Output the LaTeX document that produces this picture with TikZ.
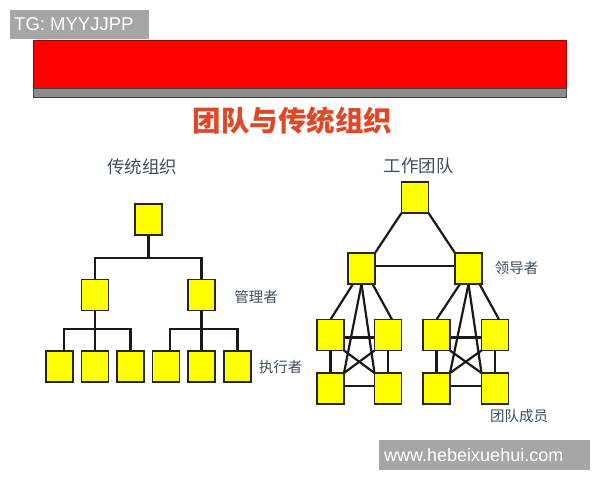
\documentclass[tikz,border=0pt]{standalone}
\usepackage{fontspec}
\setmainfont{Liberation Sans}
\newfontfamily\cjk{Noto Sans CJK SC}
\definecolor{labelc}{RGB}{60,78,94}
\definecolor{titlec}{RGB}{222,72,40}
\definecolor{boxy}{RGB}{255,255,0}
\definecolor{wm}{RGB}{166,166,166}
\begin{document}
\begin{tikzpicture}[x=1pt,y=-1pt,
  box/.style={draw=black!85,fill=boxy,line width=1.1pt,minimum width=27pt,minimum height=31pt,inner sep=0pt,outer sep=0pt},
  conn/.style={draw=black!90,line width=2.2pt},
  lbl/.style={font=\cjk\fontsize{14.5}{16}\selectfont,text=labelc,inner sep=0pt},
  head/.style={font=\cjk\fontsize{17.5}{19}\selectfont,text=labelc,inner sep=0pt}
]
\useasboundingbox (0,0) rectangle (600,480);
% header bar
\fill[red] (33,40) rectangle (566,88);
\draw[red!60!black,line width=0.6pt] (33,40) rectangle (566,88);
\draw[fill=black!45,draw=black!75,line width=0.8pt] (33,88) rectangle (566,97);
% watermark top-left
\fill[wm] (10,10) rectangle (149,39);
\node[text=white,font=\fontsize{18.5}{20}\selectfont,inner sep=0pt,anchor=west] (tg) at (14,24.5) {TG: MYYJJPP};
% title
\node[font=\cjk\bfseries\fontsize{28.5}{30}\selectfont,text=titlec,inner sep=0pt] (title) at (292.5,120.5) {团队与传统组织};
% headings
\node[head] (h1) at (142,167) {传统组织};
\node[head] (h2) at (418.5,166) {工作团队};
% labels
\node[lbl] (l1) at (256,297) {管理者};
\node[lbl] (l2) at (280.5,367) {执行者};
\node[lbl] (l3) at (516.5,268) {领导者};
\node[lbl] (l4) at (519,416) {团队成员};
% ---------- traditional organisation ----------
\node[box] (t0) at (148.5,219.5) {};
\node[box] (m1) at (95,295) {};
\node[box] (m2) at (201.5,295) {};
\node[box] (e1) at (59.5,366.5) {};
\node[box] (e2) at (95,366.5) {};
\node[box] (e3) at (130.5,366.5) {};
\node[box] (e4) at (166,366.5) {};
\node[box] (e5) at (201.5,366.5) {};
\node[box] (e6) at (237.5,366.5) {};
\coordinate (j0) at (148.5,258);
\coordinate (j1) at (95,329);
\coordinate (j2) at (201.5,329);
\draw[conn] (t0.south) -- (j0);
\draw[conn] (m1.north) |- (j0) -| (m2.north);
\draw[conn] (m1.south) -- (e2.north);
\draw[conn] ([xshift=4.5pt]e1.north) |- (j1) -| (e3.north);
\draw[conn] (m2.south) -- (e5.north);
\draw[conn] ([xshift=4pt]e4.north) |- (j2) -| (e6.north);
% ---------- work team ----------
\node[box] (r0) at (415,197.5) {};
\node[box] (rl) at (361.5,268.5) {};
\node[box] (rr) at (468.5,268.5) {};
\node[box] (a1) at (330.5,335) {};
\node[box] (b1) at (388,335) {};
\node[box] (a2) at (330.5,388.5) {};
\node[box] (b2) at (388,388.5) {};
\node[box] (c1) at (436.5,335) {};
\node[box] (d1) at (495,335) {};
\node[box] (c2) at (436.5,388.5) {};
\node[box] (d2) at (495,388.5) {};
\draw[conn] (r0.south west) -- (rl.north east);
\draw[conn] (r0.south east) -- (rr.north west);
\draw[conn] ([yshift=2.5pt]rl.east) -- ([yshift=2.5pt]rr.west);
% left group
\draw[conn] ([xshift=-8.5pt]rl.south) -- (a1.north);
\draw[conn] ([xshift=11pt]rl.south) -- ([xshift=4pt]b1.north);
\draw[conn] (rl.south) -- (a2.north east);
\draw[conn] (rl.south) -- (b2.north west);
\draw[conn] ([yshift=-2.5pt]a1.east) -- ([yshift=-2.5pt]b1.west);
\draw[conn] ([yshift=2.5pt]a2.east) -- ([yshift=2.5pt]b2.west);
\draw[conn] (a1.south) -- (a2.north);
\draw[conn] (b1.south) -- (b2.north);
\draw[conn] (a1.south east) -- (b2.north west);
\draw[conn] (b1.south west) -- (a2.north east);
% right group
\draw[conn] ([xshift=-8.5pt]rr.south) -- (c1.north);
\draw[conn] ([xshift=11pt]rr.south) -- ([xshift=4pt]d1.north);
\draw[conn] (rr.south) -- (c2.north east);
\draw[conn] (rr.south) -- (d2.north west);
\draw[conn] ([yshift=-2.5pt]c1.east) -- ([yshift=-2.5pt]d1.west);
\draw[conn] ([yshift=2.5pt]c2.east) -- ([yshift=2.5pt]d2.west);
\draw[conn] (c1.south) -- (c2.north);
\draw[conn] (d1.south) -- (d2.north);
\draw[conn] (c1.south east) -- (d2.north west);
\draw[conn] (d1.south west) -- (c2.north east);
% redraw boxes on top of connectors
\foreach \n in {t0,m1,m2,e1,e2,e3,e4,e5,e6,r0,rl,rr,a1,b1,a2,b2,c1,d1,c2,d2}{
  \draw[draw=black!85,fill=boxy,line width=1.1pt] (\n.south west) rectangle (\n.north east);
}
% watermark bottom-right
\fill[wm] (379,440) rectangle (590,470);
\node[text=white,font=\fontsize{18}{20}\selectfont,inner sep=0pt,anchor=west] (web) at (384,455) {www.hebeixuehui.com};
\end{tikzpicture}
\end{document}
